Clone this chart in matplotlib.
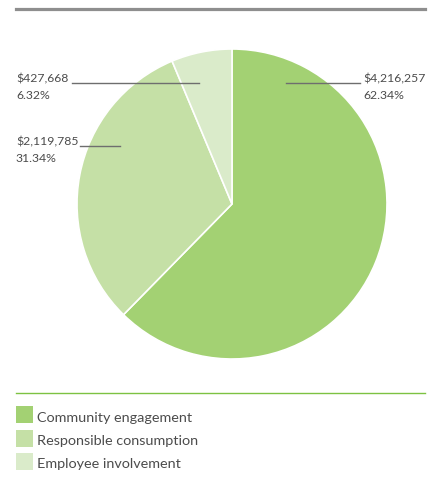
import matplotlib
matplotlib.use("Agg")
import matplotlib.pyplot as plt
from matplotlib.patches import Rectangle
from matplotlib.lines import Line2D

categories = ["Community engagement", "Responsible consumption", "Employee involvement"]
amounts = [4216257, 2119785, 427668]
shares = [62.34, 31.34, 6.32]
colors = ["#A3D173", "#C5E0A6", "#DAEBCA"]

W, H = 438, 479
fig = plt.figure(figsize=(W / 100, H / 100), dpi=100)
plt.rcParams["font.family"] = ["Lato", "DejaVu Sans"]
text_color = "#4C4C4C"


def fx(x):
    return x / W


def fy(y):
    return 1 - y / H


# pie area: centre (232, 204), radius 155 px
cx, cy, r = 232, 204, 155
ax = fig.add_axes([fx(cx - r), fy(cy + r), 2 * r / W, 2 * r / H])
ax.pie(shares, colors=colors, startangle=90, counterclock=False,
       wedgeprops=dict(edgecolor="white", linewidth=1.2))
ax.set_xlim(-1, 1)
ax.set_ylim(-1, 1)
ax.set_aspect("auto")
ax.axis("off")

# top rule and divider
fig.add_artist(Line2D([fx(16), fx(425)], [fy(8.5), fy(8.5)], color="#8E8E8E", lw=2.3))
fig.add_artist(Line2D([fx(16), fx(425)], [fy(393), fy(393)], color="#7DC242", lw=1.0))

# value labels with leader lines
labels = [
    (f"${amounts[2]:,}", f"{shares[2]:.2f}%", 16, 73, "left", (72, 199, 83)),
    (f"${amounts[1]:,}", f"{shares[1]:.2f}%", 16, 136, "left", (80, 120, 146)),
    (f"${amounts[0]:,}", f"{shares[0]:.2f}%", 363, 73, "left", (286, 360, 83)),
]
for amt, pct, x, y, ha, (x0, x1, ly) in labels:
    fig.text(fx(x), fy(y), amt, ha=ha, va="top", fontsize=8.8, color=text_color)
    fig.text(fx(x), fy(y + 17), pct, ha=ha, va="top", fontsize=8.8, color=text_color)
    fig.add_artist(Line2D([fx(x0), fx(x1)], [fy(ly), fy(ly)], color="#6E6E6E", lw=1.0))

# legend
for i, (name, col) in enumerate(zip(categories, colors)):
    top = 406 + i * 23.5
    fig.add_artist(Rectangle((fx(16), fy(top + 17)), 17 / W, 17 / H,
                             facecolor=col, edgecolor="none", transform=fig.transFigure))
    fig.text(fx(37), fy(top + 11.5), name, ha="left", va="center", fontsize=10.4, color=text_color)

fig.savefig("out.png", dpi=100)
